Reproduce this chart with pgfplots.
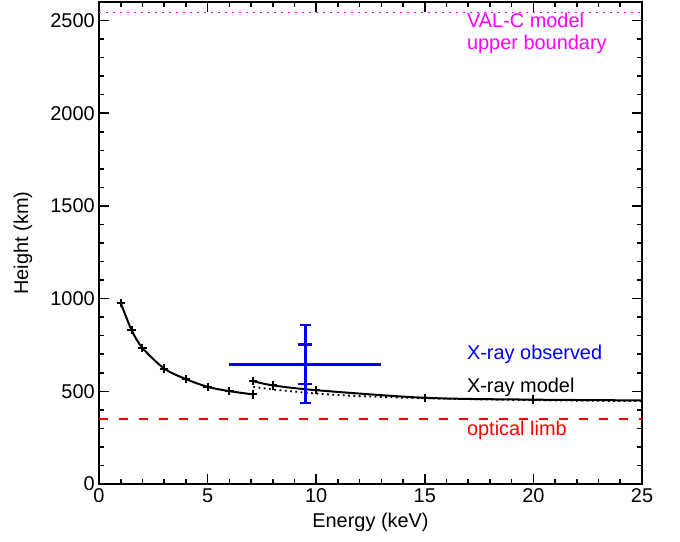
\documentclass[border=0pt]{standalone}
\usepackage{pgfplots}
\pgfplotsset{compat=1.18}
\usepackage{fontspec}
\setmainfont{Liberation Sans}
\definecolor{idlmag}{RGB}{255,0,255}
\definecolor{idlblue}{RGB}{0,0,255}
\definecolor{idlred}{RGB}{255,0,0}

\begin{document}
\begin{tikzpicture}
\begin{axis}[
  scale only axis,
  width=543bp, height=482bp,
  xmin=0, xmax=25, ymin=0, ymax=2600,
  xtick={0,5,...,25}, ytick={0,500,...,2500},
  minor x tick num=4, minor y tick num=4,
  tick align=inside,
  major tick length=10bp, minor tick length=5bp,
  line width=2bp,
  every tick/.style={black, line width=1.6bp},
  font=\fontsize{20}{22}\selectfont,
  tick label style={font=\fontsize{20}{22}\selectfont},
  /pgf/number format/assume math mode=true,
  /pgf/number format/1000 sep={},
  xlabel={Energy (keV)}, ylabel={Height (km)},
  every axis x label/.style={at={(axis description cs:0.5,0)}, yshift=-38bp, anchor=center},
  every axis y label/.style={at={(axis description cs:0,0.5)}, xshift=-76bp, rotate=90, anchor=center},
  clip=false,
]
% VAL-C upper boundary and optical limb
\addplot[idlmag, line width=1.8bp, dash pattern=on 2bp off 5bp] coordinates {(0,2543) (25,2543)};
\addplot[idlred, line width=1.8bp, dash pattern=on 9bp off 11bp] coordinates {(0,350) (25,350)};

% X-ray model, low-energy branch
\addplot[black, line width=2bp, smooth] coordinates {
(1,977) (1.5,830) (2,734) (3,623) (4,566) (5,524) (6,501) (7.1,483)};
\addplot[black, only marks, mark=+, mark size=4.2bp, line width=2bp] coordinates {
(1,977) (1.5,830) (2,734) (3,623) (4,566) (5,524) (6,501) (7.1,483)};

% X-ray model, high-energy branch
\addplot[black, line width=2bp, smooth] coordinates {
(7.1,555) (8,532) (10,506) (15,465) (20,455) (25,451)};
\addplot[black, only marks, mark=+, mark size=4.2bp, line width=2bp] coordinates {
(7.1,555) (8,532) (10,506) (15,465) (20,455)};
\addplot[black, line width=1.8bp, dash pattern=on 1.8bp off 3.5bp, smooth] coordinates {
(7.1,525) (8,510) (9.4,494) (10.6,483) (12,474) (14.8,463) (20,452) (25,447)};

% X-ray observed
\addplot[idlblue, line width=2.2bp] coordinates {(6,645) (13,645)};
\addplot[idlblue, line width=3bp] coordinates {(9.5,435) (9.5,857)};
\addplot[idlblue, only marks, mark=-, mark size=5.5bp, line width=2.2bp] coordinates {(9.5,435) (9.5,857)};
\addplot[idlblue, only marks, mark=-, mark size=7bp, line width=2.2bp] coordinates {(9.5,539) (9.5,753)};

\node[idlmag, anchor=base west, inner sep=0] at (axis cs:16.9,2462) {VAL-C model};
\node[idlmag, anchor=base west, inner sep=0] at (axis cs:16.9,2342) {upper boundary};
\node[idlblue, anchor=base west, inner sep=0] at (axis cs:16.9,673) {X-ray observed};
\node[black, anchor=base west, inner sep=0] at (axis cs:16.9,496) {X-ray model};
\node[idlred, anchor=base west, inner sep=0] at (axis cs:16.9,264) {optical limb};
\end{axis}
\pgfresetboundingbox
\path[use as bounding box] (-99bp,-58bp) rectangle (581bp,484bp);
\end{tikzpicture}
\end{document}
